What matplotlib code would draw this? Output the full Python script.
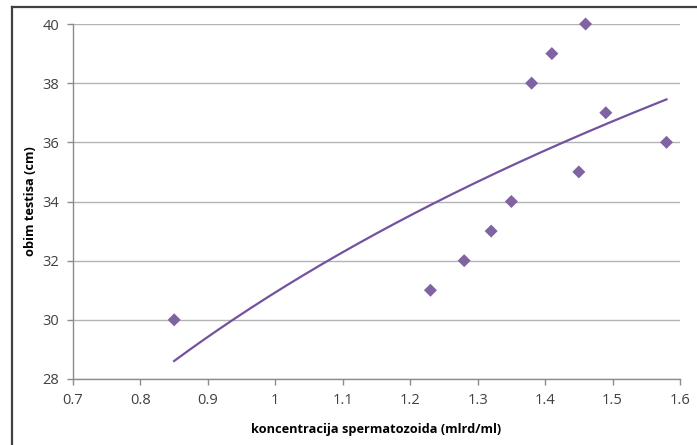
import numpy as np
import matplotlib
matplotlib.use("Agg")
import matplotlib.pyplot as plt
from matplotlib.lines import Line2D

conc = [0.85, 1.23, 1.28, 1.32, 1.35, 1.38, 1.41, 1.45, 1.46, 1.49, 1.58]
obim = [30, 31, 32, 33, 34, 38, 39, 35, 40, 37, 36]
xticks = [0.7, 0.8, 0.9, 1.0, 1.1, 1.2, 1.3, 1.4, 1.5, 1.6]
xticklabels = ["0.7", "0.8", "0.9", "1", "1.1", "1.2", "1.3", "1.4", "1.5", "1.6"]
yticks = [28, 30, 32, 34, 36, 38, 40]

W, H = 697, 445
fig = plt.figure(figsize=(W / 100, H / 100), dpi=100)
plt.rcParams['font.family'] = ['Open Sans', 'DejaVu Sans']

ax = fig.add_axes([73 / W, 1 - 379 / H, (680 - 73) / W, (379 - 24) / H])

# logarithmic trendline fitted from the data
lx = np.log(conc)
b, a = np.polyfit(lx, obim, 1)
xs = np.linspace(min(conc), max(conc), 200)
ax.plot(xs, a + b * np.log(xs), color="#7352A0", lw=1.6, zorder=3)

ax.scatter(conc, obim, marker="D", s=44, color="#8064A2", edgecolors="none",
           zorder=4, clip_on=False)

ax.set_xlim(0.7, 1.6)
ax.set_ylim(28, 40)
ax.set_xticks(xticks)
ax.set_xticklabels(xticklabels)
ax.set_yticks(yticks)
ax.yaxis.grid(True, color="#B3B3B3", lw=1.0)
ax.set_axisbelow(True)
for s in ["top", "right"]:
    ax.spines[s].set_visible(False)
for s in ["left", "bottom"]:
    ax.spines[s].set_color("#8C8C8C")
    ax.spines[s].set_linewidth(1.0)
ax.tick_params(axis="both", direction="out", length=4, width=1, color="#8C8C8C",
               labelsize=10.5, labelcolor="#404040")
ax.tick_params(axis="y", pad=6)
ax.tick_params(axis="x", pad=6)

ax.set_xlabel("koncentracija spermatozoida (mlrd/ml)", fontsize=9.2, fontweight="bold",
              color="#000000", labelpad=11)
ax.set_ylabel("obim testisa (cm)", fontsize=9.2, fontweight="bold", color="#000000",
              labelpad=4)

# outer frame (left and top edges)
fig.add_artist(Line2D([12 / W, 12 / W], [0, 1 - 7 / H], transform=fig.transFigure,
                      color="#404040", lw=1.6))
fig.add_artist(Line2D([12 / W, 1], [1 - 7 / H, 1 - 7 / H], transform=fig.transFigure,
                      color="#404040", lw=1.6))

fig.savefig("out.png", dpi=100)
